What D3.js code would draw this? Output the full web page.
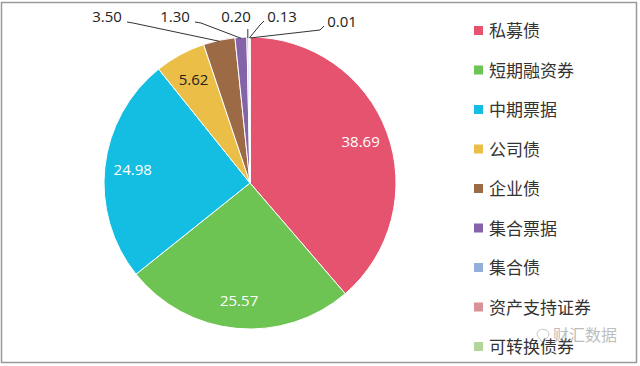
<!DOCTYPE html>
<html>
<head>
<meta charset="utf-8">
<script src="https://cdn.jsdelivr.net/npm/d3@7"></script>
<style>
  body { margin: 0; background: #fff; }
  svg { display: block; }
</style>
</head>
<body>
<div id="chart"></div>
<script>
const categories = ['私募债', '短期融资券', '中期票据', '公司债', '企业债', '集合票据', '集合债', '资产支持证券', '可转换债券'];
const values = [38.69, 25.57, 24.98, 5.62, 3.50, 1.30, 0.20, 0.13, 0.01];
const colors = ['#E5536F', '#6EC452', '#14BEE2', '#EBBE48', '#9C6B45', '#8463A9', '#93AEDB', '#D9929A', '#B4D59A'];

const width = 640;
const height = 366;
const cx = 250, cy = 183, radius = 146;

const svg = d3.select('#chart').append('svg')
  .attr('width', width)
  .attr('height', height);

// frame
svg.append('rect')
  .attr('x', 1.5).attr('y', 2.5)
  .attr('width', 635).attr('height', 360)
  .attr('fill', 'none')
  .attr('stroke', '#9a9a9a')
  .attr('stroke-width', 1.5);

const data = categories.map((c, i) => ({ name: c, value: values[i], color: colors[i] }));

const pie = d3.pie().sort(null).value((d) => d.value);
const arcs = pie(data);

const arc = d3.arc().innerRadius(0).outerRadius(radius);
const labelArc = d3.arc().innerRadius(118).outerRadius(118);

const g = svg.append('g').attr('transform', `translate(${cx},${cy})`);

g.selectAll('path.slice')
  .data(arcs)
  .enter()
  .append('path')
  .attr('class', 'slice')
  .attr('d', arc)
  .attr('fill', (d) => d.data.color)
  .attr('stroke', '#fff')
  .attr('stroke-width', 1);

// inside labels for big slices
const inside = arcs.filter((d) => d.data.value > 5);
g.selectAll('text.inside')
  .data(inside)
  .enter()
  .append('text')
  .attr('class', 'inside')
  .attr('transform', (d) => `translate(${labelArc.centroid(d)})`)
  .attr('text-anchor', 'middle')
  .attr('dy', '0.35em')
  .attr('font-family', "'Open Sans', 'Liberation Sans', sans-serif")
  .attr('font-size', '15px')
  .attr('fill', (d) => (d.data.value < 10 ? '#222' : '#fff'))
  .text((d) => d.data.value.toFixed(2));

// outside labels for small slices: text x, baseline y, leader side
const outsideLayout = [
  { x: 107, y: 22, side: 'left' },
  { x: 175, y: 22, side: 'left' },
  { x: 236, y: 22, side: 'mid' },
  { x: 282, y: 22, side: 'right' },
  { x: 342, y: 27, side: 'right' }
];
const outside = arcs.filter((d) => d.data.value <= 5);

outside.forEach((d, i) => {
  const lay = outsideLayout[i];
  const a = (d.startAngle + d.endAngle) / 2;
  const px = cx + Math.sin(a) * (radius - 1);
  const py = cy - Math.cos(a) * (radius - 1);
  let pts;
  if (lay.side === 'left') {
    pts = [[lay.x + 20, lay.y], [lay.x + 26, lay.y + 1], [px, py]];
  } else if (lay.side === 'mid') {
    pts = [[px, lay.y + 7], [px, py]];
  } else {
    pts = [[lay.x - 18, lay.y - 1], [lay.x - 22, lay.y + 3], [px, py]];
  }
  svg.append('path')
    .attr('d', d3.line()(pts))
    .attr('fill', 'none')
    .attr('stroke', '#333')
    .attr('stroke-width', 1);
  svg.append('text')
    .attr('x', lay.x)
    .attr('y', lay.y)
    .attr('text-anchor', 'middle')
    .attr('font-family', "'Open Sans', 'Liberation Sans', sans-serif")
    .attr('font-size', '15px')
    .attr('fill', '#222')
    .text(d.data.value.toFixed(2));
});

// legend
const legend = svg.append('g');
const legendY = d3.scalePoint().domain(categories).range([31, 347]);

const item = legend.selectAll('g.item')
  .data(data)
  .enter()
  .append('g')
  .attr('class', 'item')
  .attr('transform', (d) => `translate(474,${legendY(d.name)})`);

item.append('rect')
  .attr('x', 0).attr('y', -5)
  .attr('width', 9).attr('height', 9)
  .attr('fill', (d) => d.color);

item.append('text')
  .attr('x', 15)
  .attr('y', 0)
  .attr('dy', '0.36em')
  .attr('font-family', "'Noto Sans CJK SC', sans-serif")
  .attr('font-size', '17px')
  .attr('fill', '#333')
  .text((d) => d.name);

// watermark
const wm = svg.append('g').attr('opacity', 0.55);
wm.append('path')
  .attr('d', 'M537,335 a6,5 0 1,1 8,4 l-3,3 z')
  .attr('fill', 'none')
  .attr('stroke', '#999')
  .attr('stroke-width', 1);
wm.append('text')
  .attr('x', 553)
  .attr('y', 341)
  .attr('font-family', "'Noto Sans CJK SC', sans-serif")
  .attr('font-size', '16px')
  .attr('fill', '#888')
  .text('财汇数据');
</script>
</body>
</html>
